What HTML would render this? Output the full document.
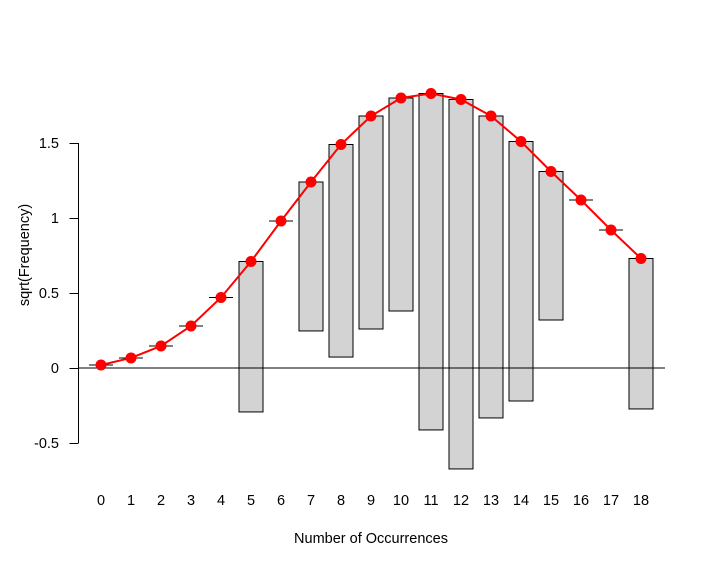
<!DOCTYPE html>
<html><head><meta charset="utf-8"><style>body{margin:0;background:#fff}svg{display:block;font-family:"Liberation Sans",Arial,sans-serif}</style></head>
<body>
<svg id="chart" width="706" height="567" viewBox="0 0 706 567"></svg>
<script>
const categories=[0,1,2,3,4,5,6,7,8,9,10,11,12,13,14,15,16,17,18];
const expectedSqrt=[0.02,0.067,0.147,0.28,0.47,0.71,0.98,1.24,1.49,1.68,1.80,1.83,1.79,1.68,1.51,1.31,1.12,0.92,0.73];
const observedSqrt=[0,0,0,0,0,1.003,0,0.993,1.417,1.42,1.42,2.243,2.463,2.013,1.73,0.99,0,0,1.003];
const yTicks=[-0.5,0,0.5,1,1.5];
const yTickLabels=["-0.5","0","0.5","1","1.5"];
const NS="http://www.w3.org/2000/svg";
const svg=document.getElementById('chart');
const X=v=>101+30*v;
const Y=v=>368-150*v;
function mk(t,a,p){const e=document.createElementNS(NS,t);for(const k in a)e.setAttribute(k,a[k]);(p||svg).appendChild(e);return e;}
// bars
categories.forEach((c,i)=>{
  const top=expectedSqrt[i],bot=expectedSqrt[i]-observedSqrt[i];
  let el;
  if(observedSqrt[i]===0){
    el=mk('line',{x1:X(c)-12,x2:X(c)+12,y1:Y(top),y2:Y(top),stroke:'#000','stroke-width':1});
  } else {
    el=mk('rect',{x:X(c)-12,y:Y(top),width:24,height:Y(bot)-Y(top),fill:'#d3d3d3',stroke:'#000','stroke-width':1});
  }
  
  
});
// zero line
const zl=mk('line',{x1:78,x2:665,y1:Y(0),y2:Y(0),stroke:'#000','stroke-width':1});


// expected line
const pl=mk('polyline',{points:categories.map((c,i)=>X(c)+','+Y(expectedSqrt[i])).join(' '),fill:'none',stroke:'#ff0000','stroke-width':2});


categories.forEach((c,i)=>{
  const p=mk('circle',{cx:X(c),cy:Y(expectedSqrt[i]),r:5.5,fill:'#ff0000'});
  
  
});
// y axis
const ya=mk('line',{x1:78.5,x2:78.5,y1:Y(yTicks[yTicks.length-1]),y2:Y(yTicks[0]),stroke:'#000'});


yTicks.forEach((t,i)=>{
  const tk=mk('line',{x1:69.5,x2:78.5,y1:Y(t)+0.5,y2:Y(t)+0.5,stroke:'#000'});
  
  
  const tx=mk('text',{x:59,y:Y(t)+5,'text-anchor':'end','font-size':14.5,fill:'#000'});
  tx.textContent=yTickLabels[i];
  
  
});
categories.forEach(c=>{
  const tx=mk('text',{x:X(c),y:505,'text-anchor':'middle','font-size':14.5,fill:'#000'});
  tx.textContent=String(c);
  
  
});
const xt=mk('text',{x:371,y:543,'text-anchor':'middle','font-size':14.5,fill:'#000'});
xt.textContent='Number of Occurrences';


const yt=mk('text',{x:0,y:0,'text-anchor':'middle','font-size':14.5,fill:'#000',transform:'translate(29,255) rotate(-90)'});
yt.textContent='sqrt(Frequency)';


</script>
</body></html>
